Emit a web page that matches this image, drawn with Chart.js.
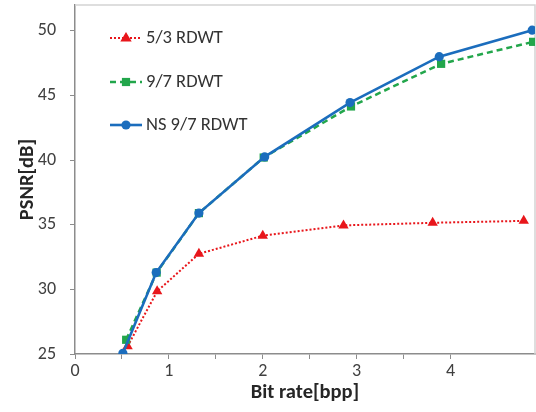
<!DOCTYPE html>
<html>
<head>
<meta charset="utf-8">
<script src="https://cdn.jsdelivr.net/npm/chart.js@4/dist/chart.umd.min.js"></script>
<style>
  html, body { margin: 0; padding: 0; background: #fff; }
  #psnr-chart { display: block; }
</style>
</head>
<body>
<canvas id="psnr-chart" width="536" height="412"></canvas>
<script>
const seriesNames = ["5/3 RDWT", "9/7 RDWT", "NS 9/7 RDWT"];

// bit rate [bpp] and PSNR [dB] per transform
const rate53 = [0.56, 0.875, 1.32, 2.0, 2.86, 3.81, 4.78];
const psnr53 = [25.6, 29.85, 32.75, 34.15, 34.95, 35.15, 35.3];
const rate97 = [0.545, 0.87, 1.32, 2.01, 2.94, 3.9, 4.88];
const psnr97 = [26.1, 31.3, 35.9, 40.2, 44.15, 47.45, 49.15];
const rateNS = [0.51, 0.865, 1.32, 2.02, 2.93, 3.88, 4.87];
const psnrNS = [25.05, 31.3, 35.9, 40.25, 44.45, 48.0, 50.05];

const FONT = "Carlito, Calibri, Lato, sans-serif";
const chartCanvas = document.getElementById("psnr-chart");

function toPoints(xs, ys) {
    return xs.map((x, i) => ({ x: x, y: ys[i] }));
}

function drawMarker(ctx, style, x, y, r, color) {
    ctx.save();
    ctx.fillStyle = color;
    ctx.beginPath();
    if (style === "circle") {
        ctx.arc(x, y, r, 0, Math.PI * 2);
    } else if (style === "rect") {
        const s = r * Math.SQRT1_2;
        ctx.rect(x - s, y - s, s * 2, s * 2);
    } else {
        ctx.moveTo(x, y - r);
        ctx.lineTo(x + r * 0.95, y + r * 0.6);
        ctx.lineTo(x - r * 0.95, y + r * 0.6);
        ctx.closePath();
    }
    ctx.fill();
    ctx.restore();
}

// light frame on the top and right of the plot area
const frame = {
    id: "frame",
    beforeDatasetsDraw(chart) {
        const { ctx, chartArea: a } = chart;
        ctx.save();
        ctx.strokeStyle = "#d4d4d4";
        ctx.lineWidth = 1.5;
        ctx.beginPath();
        ctx.moveTo(a.left, a.top);
        ctx.lineTo(a.right, a.top);
        ctx.lineTo(a.right, a.bottom);
        ctx.stroke();
        ctx.restore();
    }
};

// legend inside the plot, line sample with marker
const insideLegend = {
    id: "insideLegend",
    afterDatasetsDraw(chart) {
        const ctx = chart.ctx;
        const x0 = 110, x1 = 142, textX = 146;
        const rows = [38, 82, 125];
        chart.data.datasets.forEach((ds, i) => {
            const y = rows[i];
            ctx.save();
            ctx.strokeStyle = ds.borderColor;
            ctx.lineWidth = ds.borderWidth;
            ctx.setLineDash(ds.borderDash || []);
            ctx.beginPath();
            ctx.moveTo(x0, y);
            ctx.lineTo(x1, y);
            ctx.stroke();
            ctx.restore();
            drawMarker(ctx, ds.pointStyle, (x0 + x1) / 2, y, ds.pointRadius, ds.pointBackgroundColor);
            ctx.save();
            ctx.fillStyle = "#333";
            ctx.font = "18.5px " + FONT;
            ctx.textBaseline = "middle";
            ctx.fillText(ds.label, textX, y);
            ctx.restore();
        });
    }
};

new Chart(chartCanvas, {
    type: "scatter",
    data: {
        datasets: [
            {
                label: seriesNames[0],
                data: toPoints(rate53, psnr53),
                showLine: true,
                borderColor: "#e8161b",
                pointBackgroundColor: "#e8161b",
                pointBorderWidth: 0,
                borderWidth: 2,
                borderDash: [2, 2],
                pointStyle: "triangle",
                pointRadius: 6,
                order: 3
            },
            {
                label: seriesNames[1],
                data: toPoints(rate97, psnr97),
                showLine: true,
                borderColor: "#22a64b",
                pointBackgroundColor: "#22a64b",
                pointBorderWidth: 0,
                borderWidth: 2.5,
                borderDash: [6, 4],
                pointStyle: "rect",
                pointRadius: 5.8,
                order: 2
            },
            {
                label: seriesNames[2],
                data: toPoints(rateNS, psnrNS),
                showLine: true,
                borderColor: "#1b6dbd",
                pointBackgroundColor: "#1b6dbd",
                pointBorderWidth: 0,
                borderWidth: 2.6,
                pointStyle: "circle",
                pointRadius: 4.6,
                order: 1
            }
        ]
    },
    options: {
        responsive: false,
        animation: false,
        layout: { autoPadding: false, padding: { top: 5, right: 1, left: 0, bottom: 0 } },
        plugins: {
            legend: { display: false },
            tooltip: { enabled: false }
        },
        scales: {
            x: {
                type: "linear",
                min: 0,
                max: 4.9,
                afterBuildTicks: s => { s.ticks = s.ticks.filter(t => Math.abs(t.value * 2 - Math.round(t.value * 2)) < 1e-6); },
                afterFit: s => { s.height = 58; s.paddingLeft = 0; s.paddingRight = 0; },
                ticks: {
                    stepSize: 0.5,
                    autoSkip: false,
                    maxRotation: 0,
                    padding: 2,
                    color: "#404040",
                    font: { family: FONT, size: 18 },
                    callback: v => Number.isInteger(v) ? String(v) : ""
                },
                grid: { drawOnChartArea: false, color: "#8c8c8c", tickLength: 5 },
                border: { color: "#8c8c8c", width: 1.5 },
                title: {
                    display: true,
                    text: "Bit rate[bpp]",
                    color: "#262626",
                    padding: { top: 7, bottom: 7 },
                    font: { family: FONT, size: 20.5, weight: "bold" }
                }
            },
            y: {
                min: 25,
                max: 52,
                afterBuildTicks: s => { s.ticks = s.ticks.filter(t => t.value % 5 === 0); },
                afterFit: s => { s.width = 75; s.paddingTop = 0; s.paddingBottom = 0; },
                ticks: {
                    stepSize: 5,
                    padding: 14,
                    color: "#404040",
                    font: { family: FONT, size: 18 }
                },
                grid: { drawOnChartArea: false, color: "#8c8c8c", tickLength: 5 },
                border: { color: "#8c8c8c", width: 1.5 },
                title: {
                    display: true,
                    text: "PSNR[dB]",
                    color: "#262626",
                    padding: { top: 16, bottom: 16 },
                    font: { family: FONT, size: 20.5, weight: "bold" }
                }
            }
        }
    },
    plugins: [frame, insideLegend]
});
</script>
</body>
</html>
